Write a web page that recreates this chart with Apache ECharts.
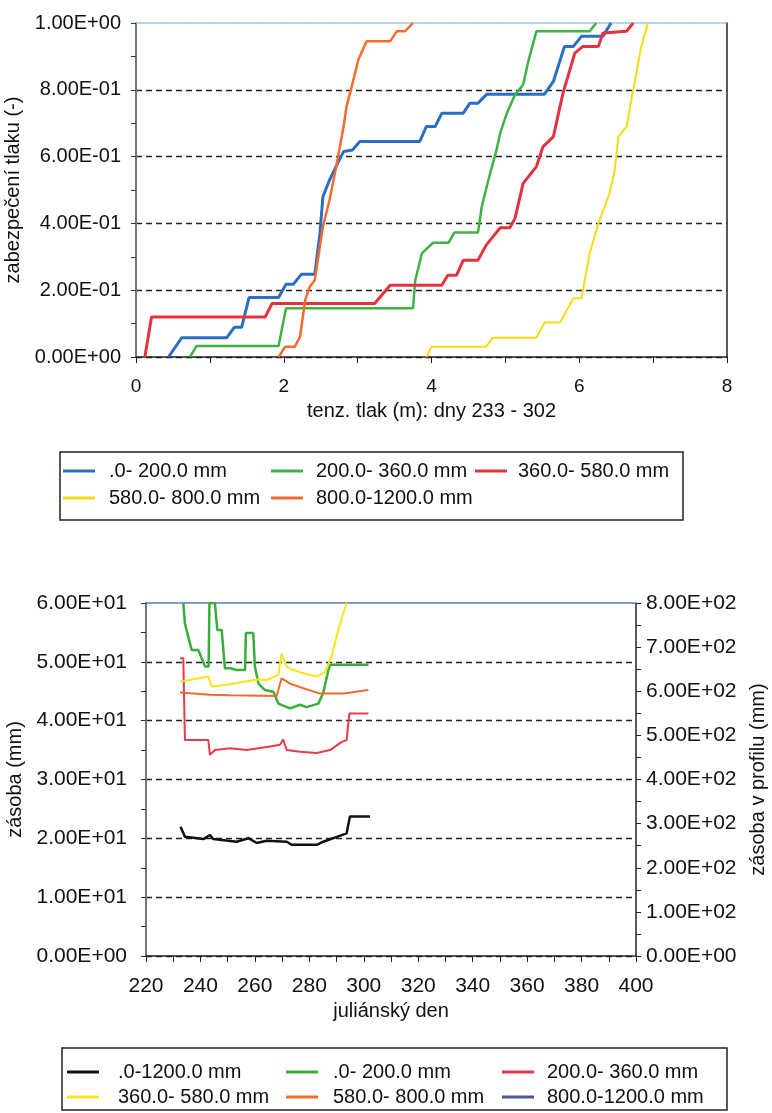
<!DOCTYPE html>
<html>
<head>
<meta charset="utf-8">
<script src="https://cdn.jsdelivr.net/npm/echarts@6/dist/echarts.min.js"></script>
<style>
  html, body { margin: 0; padding: 0; background: #fff; overflow: hidden; }
  #tlak { position: absolute; left: 0; top: 0; width: 772px; height: 540px; }
  #zasoba { position: absolute; left: 0; top: 540px; width: 772px; height: 573px; }
</style>
</head>
<body>
<div id="tlak"></div>
<div id="zasoba"></div>
<script>
// horni graf: zabezpeceni tlaku vs tenz. tlak (m), [x, y]
const tlak_0_200 = [[0.44,0],[0.62,0.058],[1.23,0.058],[1.33,0.089],[1.43,0.089],[1.53,0.178],[1.93,0.178],[2.03,0.218],[2.13,0.218],[2.24,0.248],[2.42,0.248],[2.49,0.37],[2.53,0.48],[2.62,0.53],[2.74,0.585],[2.81,0.615],[2.93,0.62],[3.03,0.645],[3.84,0.645],[3.93,0.69],[4.05,0.69],[4.14,0.73],[4.43,0.73],[4.52,0.76],[4.63,0.76],[4.75,0.787],[5.53,0.787],[5.65,0.825],[5.80,0.93],[5.92,0.93],[6.03,0.96],[6.32,0.96],[6.43,1.0]];
const tlak_200_360 = [[0.73,0],[0.82,0.033],[1.93,0.033],[2.03,0.146],[3.75,0.146],[3.78,0.23],[3.87,0.31],[4.02,0.342],[4.23,0.342],[4.31,0.373],[4.63,0.373],[4.68,0.45],[4.77,0.53],[4.88,0.62],[4.93,0.67],[5.02,0.73],[5.13,0.785],[5.24,0.815],[5.31,0.885],[5.42,0.975],[6.14,0.975],[6.23,1.0]];
const tlak_360_580 = [[0.12,0],[0.21,0.12],[1.75,0.12],[1.84,0.16],[3.23,0.16],[3.44,0.215],[4.14,0.215],[4.22,0.245],[4.34,0.245],[4.43,0.29],[4.63,0.29],[4.74,0.335],[4.93,0.387],[5.06,0.387],[5.13,0.415],[5.24,0.52],[5.42,0.57],[5.51,0.63],[5.65,0.66],[5.78,0.79],[5.94,0.91],[6.05,0.93],[6.26,0.93],[6.32,0.97],[6.64,0.975],[6.73,1.0]];
const tlak_580_800 = [[3.93,0],[4.0,0.031],[4.74,0.031],[4.83,0.058],[5.42,0.058],[5.53,0.103],[5.74,0.103],[5.92,0.176],[6.03,0.176],[6.14,0.31],[6.26,0.40],[6.41,0.49],[6.48,0.56],[6.53,0.66],[6.64,0.69],[6.73,0.80],[6.84,0.93],[6.93,1.0]];
const tlak_800_1200 = [[1.93,0],[2.02,0.031],[2.15,0.031],[2.22,0.06],[2.29,0.17],[2.35,0.21],[2.42,0.23],[2.53,0.39],[2.62,0.47],[2.71,0.57],[2.81,0.69],[2.85,0.75],[2.92,0.81],[3.01,0.89],[3.12,0.945],[3.44,0.945],[3.53,0.975],[3.64,0.975],[3.75,1.0]];

// dolni graf: zasoba (mm) vs juliánský den, [den, hodnota]
const zas_0_1200 = [[232.7,293],[234.3,270],[241.1,265],[243.5,274],[244.7,265],[253.3,259],[257.6,267],[260.7,256],[264.3,261],[271.7,259],[273.5,252],[282.7,252],[285.1,259],[291.9,274],[293.7,278],[294.9,316],[302.3,316]];
const zas_0_200 = [[233.7,60],[234.3,56.5],[236.8,52.0],[239.2,52.0],[241.7,49.2],[243,49.2],[243.3,60],[245.3,60],[246.2,55.4],[247.8,55.4],[249,48.9],[250.9,48.9],[253.3,48.6],[256.4,48.6],[256.7,54.9],[259.4,54.9],[260,49.2],[261.3,46.3],[263.7,45.2],[266.8,44.9],[268.6,42.9],[272.9,42.1],[276.6,42.7],[279,42.3],[283.3,42.9],[285.1,44.7],[287,48.6],[287.6,49.5],[301.7,49.5]];
const zas_200_360 = [[232.5,50.6],[233.7,50.6],[234.3,36.7],[242.9,36.7],[243.5,34.2],[245.3,35.0],[250.9,35.3],[257,35.0],[265.6,35.6],[269.2,35.9],[270.4,36.8],[271.7,35.0],[276.6,34.7],[282.7,34.5],[287.6,35.0],[291.9,36.4],[293.7,36.7],[294.7,41.2],[301.7,41.2]];
const zas_360_580 = [[232.5,46.6],[242.9,47.5],[244.1,45.8],[250.9,46.2],[260.7,47.0],[264.3,46.9],[268.6,47.8],[269.8,51.4],[271.7,49.2],[274.1,48.6],[279,47.9],[282.7,47.5],[285.8,48.3],[288.2,50.9],[290.6,55.4],[292.5,58.3],[293.7,60]];
const zas_580_800 = [[232.5,44.8],[243.5,44.4],[250.9,44.3],[268,44.2],[269.8,47.2],[272.9,46.3],[277.8,45.5],[283.9,44.6],[292.5,44.6],[301.7,45.2]];
const zas_800_1200 = [];

const FONT = "'Liberation Sans', Arial, sans-serif";
const TXT = '#111';

// 1.00E+00 styl popisku
function sci(v) {
  const parts = Number(v).toExponential(2).split('e');
  const n = parseInt(parts[1], 10);
  return parts[0] + 'E' + (n < 0 ? '-' : '+') + String(Math.abs(n)).padStart(2, '0');
}

function line(name, data, color, width, yIndex) {
  return {
    name: name, type: 'line', data: data, symbol: 'none',
    yAxisIndex: yIndex || 0,
    lineStyle: { color: color, width: width },
    itemStyle: { color: color },
    z: 3
  };
}

function legendCol(left, top, gap, textPad, names) {
  return {
    orient: 'vertical', left: left, top: top, data: names, padding: 0,
    icon: 'rect', itemWidth: 32, itemHeight: 3, itemGap: gap, selectedMode: false,
    textStyle: { fontSize: 20, color: TXT, fontFamily: FONT, padding: [0, 0, 0, textPad] }
  };
}

// ram nahore (jen cara)
function frameX(min, max, color, type) {
  return {
    type: 'value', min: min, max: max, position: 'top',
    axisLine: { show: true, onZero: false, lineStyle: { color: color, width: 1.5, type: type } },
    axisTick: { show: false }, axisLabel: { show: false }, splitLine: { show: false }
  };
}

// ---- horni graf ----
const chartTlak = echarts.init(document.getElementById('tlak'));
chartTlak.setOption({
  animation: false,
  textStyle: { fontFamily: FONT },
  grid: { left: 136, top: 23, width: 591, height: 334, outerBoundsMode: 'none' },
  xAxis: [{
    type: 'value', min: 0, max: 8, interval: 2,
    name: 'tenz. tlak (m): dny 233 - 302', nameLocation: 'middle', nameGap: 44,
    nameTextStyle: { fontSize: 20, color: TXT },
    axisLine: { show: true, onZero: false, lineStyle: { color: '#222', width: 1.5 } },
    axisTick: { show: true, length: 6, lineStyle: { color: '#222' } },
    minorTick: { show: true, splitNumber: 2, length: 6, lineStyle: { color: '#222' } },
    axisLabel: { fontSize: 19, color: TXT, margin: 20 },
    splitLine: { show: false }
  }, frameX(0, 8, '#8cbce6', 'dotted')],
  yAxis: [{
    type: 'value', min: 0, max: 1, interval: 0.2,
    name: 'zabezpečení tlaku (-)', nameLocation: 'middle', nameGap: 108, nameRotate: 90,
    nameTextStyle: { fontSize: 20, color: TXT },
    axisLine: { show: true, onZero: false, lineStyle: { color: '#777', width: 2 } },
    axisTick: { show: true, length: 5, lineStyle: { color: '#333' } },
    minorTick: { show: true, splitNumber: 2, length: 5, lineStyle: { color: '#333' } },
    axisLabel: { fontSize: 20, color: TXT, margin: 15, formatter: sci },
    splitLine: { show: true, lineStyle: { color: ['#222','#222','#222','#222','#222','rgba(0,0,0,0)'], type: [6, 4], width: 1.3 } }
  }, {
    type: 'value', min: 0, max: 1, position: 'right',
    axisLine: { show: true, onZero: false, lineStyle: { color: '#222', width: 1.5 } },
    axisTick: { show: false }, axisLabel: { show: false }, splitLine: { show: false }
  }],
  legend: [
    legendCol(63, 461, 7, 9, ['.0- 200.0 mm', '580.0- 800.0 mm']),
    legendCol(271, 461, 7, 8, ['200.0- 360.0 mm', '800.0-1200.0 mm']),
    legendCol(475, 461, 7, 6, ['360.0- 580.0 mm'])
  ],
  graphic: [{
    type: 'rect', shape: { x: 60, y: 452, width: 623, height: 68 },
    style: { fill: 'none', stroke: '#222', lineWidth: 1.5 }
  }],
  series: [
    line('.0- 200.0 mm', tlak_0_200, '#2a6fc4', 3),
    line('200.0- 360.0 mm', tlak_200_360, '#3fb244', 2.5),
    line('360.0- 580.0 mm', tlak_360_580, '#e6323e', 3),
    line('580.0- 800.0 mm', tlak_580_800, '#f7dc12', 2),
    line('800.0-1200.0 mm', tlak_800_1200, '#f56a2e', 2.5)
  ]
});

// ---- dolni graf ----
const chartZasoba = echarts.init(document.getElementById('zasoba'));
chartZasoba.setOption({
  animation: false,
  textStyle: { fontFamily: FONT },
  grid: { left: 146, top: 63, width: 490, height: 353, outerBoundsMode: 'none' },
  xAxis: [{
    type: 'value', min: 220, max: 400, interval: 20,
    name: 'juliánský den', nameLocation: 'middle', nameGap: 44,
    nameTextStyle: { fontSize: 20, color: TXT },
    axisLine: { show: true, onZero: false, lineStyle: { color: '#222', width: 1.5 } },
    axisTick: { show: true, length: 6, lineStyle: { color: '#222' } },
    minorTick: { show: true, splitNumber: 2, length: 6, lineStyle: { color: '#222' } },
    axisLabel: { fontSize: 21, color: TXT, margin: 20 },
    splitLine: { show: false }
  }, frameX(220, 400, '#5b7fb5', 'solid')],
  yAxis: [{
    type: 'value', min: 0, max: 60, interval: 10,
    name: 'zásoba (mm)', nameLocation: 'middle', nameGap: 118, nameRotate: 90,
    nameTextStyle: { fontSize: 20, color: TXT },
    axisLine: { show: true, onZero: false, lineStyle: { color: '#777', width: 2 } },
    axisTick: { show: true, length: 5, lineStyle: { color: '#333' } },
    minorTick: { show: true, splitNumber: 2, length: 5, lineStyle: { color: '#333' } },
    axisLabel: { fontSize: 21, color: TXT, margin: 19, formatter: sci },
    splitLine: { show: true, lineStyle: { color: ['#222','#222','#222','#222','#222','#222','rgba(0,0,0,0)'], type: [6, 4], width: 1.3 } }
  }, {
    type: 'value', min: 0, max: 800, interval: 100, position: 'right',
    name: 'zásoba v profilu (mm)', nameLocation: 'middle', nameGap: 112, nameRotate: 90,
    nameTextStyle: { fontSize: 20, color: TXT },
    axisLine: { show: true, onZero: false, lineStyle: { color: '#222', width: 1.5 } },
    axisTick: { show: true, length: 5, lineStyle: { color: '#222' } },
    minorTick: { show: true, splitNumber: 2, length: 5, lineStyle: { color: '#222' } },
    axisLabel: { fontSize: 21, color: TXT, margin: 10, formatter: sci },
    splitLine: { show: false }
  }],
  legend: [
    legendCol(67, 522, 5, 14, ['.0-1200.0 mm', '360.0- 580.0 mm']),
    legendCol(286, 522, 5, 10, ['.0- 200.0 mm', '580.0- 800.0 mm']),
    legendCol(502, 522, 5, 8, ['200.0- 360.0 mm', '800.0-1200.0 mm'])
  ],
  graphic: [{
    type: 'rect', shape: { x: 62, y: 508, width: 665, height: 62 },
    style: { fill: 'none', stroke: '#222', lineWidth: 1.5 }
  }],
  series: [
    line('.0-1200.0 mm', zas_0_1200, '#111111', 2.5, 1),
    line('.0- 200.0 mm', zas_0_200, '#3aae3a', 2.5),
    line('200.0- 360.0 mm', zas_200_360, '#e8394a', 2),
    line('360.0- 580.0 mm', zas_360_580, '#ffe31a', 2),
    line('580.0- 800.0 mm', zas_580_800, '#f26a2e', 2),
    line('800.0-1200.0 mm', zas_800_1200, '#4a5a96', 2.5)
  ]
});
</script>
</body>
</html>
